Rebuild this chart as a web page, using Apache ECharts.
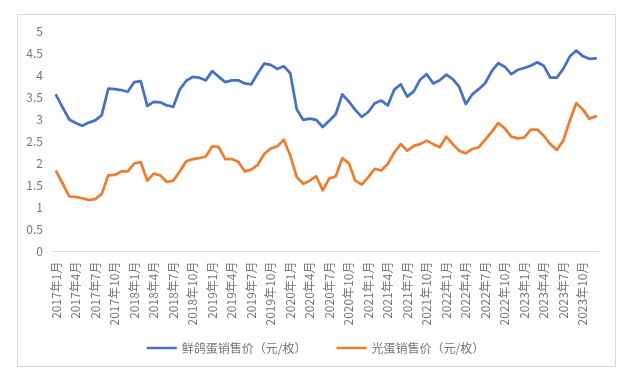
<!DOCTYPE html>
<html>
<head>
<meta charset="utf-8">
<script src="https://cdn.jsdelivr.net/npm/echarts@6/dist/echarts.min.js"></script>
<style>
html,body{margin:0;padding:0;background:#fff;}
#chart{width:631px;height:383px;}
</style>
</head>
<body>
<div id="chart"></div>
<script>
// Categories: months 2017年1月 .. 2023年12月
const years = [2017, 2018, 2019, 2020, 2021, 2022, 2023];
const months = [1,2,3,4,5,6,7,8,9,10,11,12];
const categories = [];
years.forEach(y => months.forEach(m => categories.push(y + '年' + m + '月')));

const seriesNames = ['鲜鸽蛋销售价（元/枚）', '光蛋销售价（元/枚）'];

const pigeonEggPrice = [
  3.55, 3.27, 3.00, 2.92, 2.86, 2.93, 2.98, 3.10, 3.70, 3.69, 3.67, 3.63,
  3.85, 3.87, 3.31, 3.40, 3.39, 3.32, 3.29, 3.68, 3.88, 3.97, 3.95, 3.89,
  4.10, 3.97, 3.85, 3.89, 3.89, 3.82, 3.80, 4.05, 4.27, 4.24, 4.15, 4.21,
  4.05, 3.23, 2.99, 3.02, 2.99, 2.83, 2.97, 3.12, 3.57, 3.41, 3.22, 3.06,
  3.17, 3.37, 3.43, 3.32, 3.68, 3.80, 3.52, 3.64, 3.91, 4.03, 3.82, 3.89,
  4.02, 3.92, 3.74, 3.35, 3.57, 3.69, 3.83, 4.10, 4.28, 4.20, 4.03, 4.13,
  4.17, 4.22, 4.30, 4.22, 3.95, 3.95, 4.15, 4.43, 4.57, 4.44, 4.38, 4.39
];

const clearEggPrice = [
  1.82, 1.54, 1.25, 1.24, 1.21, 1.17, 1.19, 1.31, 1.73, 1.74, 1.82, 1.82,
  2.00, 2.03, 1.61, 1.77, 1.73, 1.58, 1.61, 1.82, 2.05, 2.10, 2.12, 2.16,
  2.39, 2.37, 2.10, 2.10, 2.04, 1.82, 1.86, 1.97, 2.22, 2.34, 2.39, 2.54,
  2.18, 1.69, 1.54, 1.61, 1.71, 1.39, 1.66, 1.71, 2.12, 2.01, 1.61, 1.52,
  1.69, 1.88, 1.84, 1.99, 2.25, 2.44, 2.29, 2.40, 2.44, 2.52, 2.44, 2.37,
  2.61, 2.44, 2.29, 2.23, 2.33, 2.37, 2.54, 2.72, 2.92, 2.80, 2.61, 2.57,
  2.59, 2.77, 2.77, 2.63, 2.44, 2.31, 2.52, 2.97, 3.37, 3.23, 3.02, 3.07
];

const yMin = 0, yMax = 5, yInterval = 0.5;

const chart = echarts.init(document.getElementById('chart'), null, {renderer: 'canvas'});
const font = '"Noto Sans CJK SC", "Noto Sans", sans-serif';
const textColor = '#767676';
chart.setOption({
  animation: false,
  backgroundColor: '#ffffff',
  graphic: [{
    type: 'rect',
    shape: {x: 17.5, y: 14.5, width: 598, height: 352},
    style: {fill: 'none', stroke: '#d9d9d9', lineWidth: 1},
    silent: true,
    z: -1
  }],
  grid: {left: 53, right: 32, top: 31.5, height: 220, containLabel: false},
  legend: {
    data: seriesNames,
    left: 'center',
    top: 337,
    itemWidth: 30,
    itemHeight: 10,
    itemGap: 30,
    icon: 'path://M0,4 L30,4 L30,6.5 L0,6.5 Z',
    textStyle: {color: textColor, fontSize: 12, fontFamily: font}
  },
  xAxis: {
    type: 'category',
    data: categories,
    boundaryGap: true,
    axisLine: {show: true, lineStyle: {color: '#d9d9d9', width: 1}},
    axisTick: {show: false},
    axisLabel: {
      interval: 2,
      rotate: 90,
      margin: 10,
      color: textColor,
      fontSize: 12,
      fontFamily: font
    },
    splitLine: {show: false}
  },
  yAxis: {
    type: 'value',
    min: yMin,
    max: yMax,
    interval: yInterval,
    axisLine: {show: false},
    axisTick: {show: false},
    splitLine: {show: false},
    axisLabel: {color: textColor, fontSize: 12, margin: 10, fontFamily: font}
  },
  series: [
    {
      name: seriesNames[0],
      type: 'line',
      data: pigeonEggPrice,
      symbol: 'none',
      lineStyle: {color: '#4472C4', width: 2.75, join: 'round', cap: 'round'},
      itemStyle: {color: '#4472C4'}
    },
    {
      name: seriesNames[1],
      type: 'line',
      data: clearEggPrice,
      symbol: 'none',
      lineStyle: {color: '#ED7D31', width: 2.75, join: 'round', cap: 'round'},
      itemStyle: {color: '#ED7D31'}
    }
  ]
});
</script>
</body>
</html>
